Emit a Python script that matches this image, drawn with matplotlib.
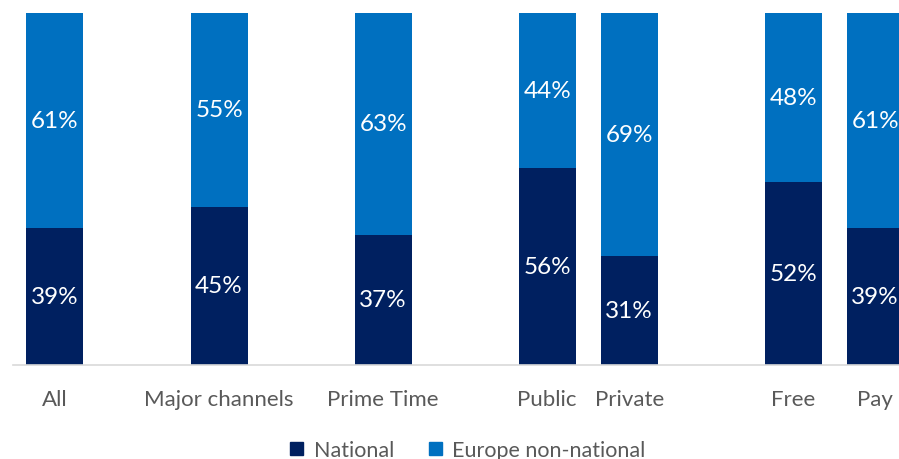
import matplotlib.pyplot as plt
from matplotlib.patches import Patch

categories = ['All', 'Major channels', 'Prime Time', 'Public', 'Private', 'Free', 'Pay']
national = [39, 45, 37, 56, 31, 52, 39]
europe_non_national = [61, 55, 63, 44, 69, 48, 61]

# groups sit apart with an empty slot between them
slots = [0, 2, 4, 6, 7, 9, 10]

NAVY = '#002060'
BLUE = '#0070C0'
GREY = '#595959'

plt.rcParams['font.family'] = ['Lato', 'DejaVu Sans']

fig = plt.figure(figsize=(8.99, 4.60), dpi=100)
ax = fig.add_axes([13 / 899, 94 / 460, 886 / 899, 352 / 460])

nat = [v / 100 for v in national]
eur = [v / 100 for v in europe_non_national]
ax.bar(slots, nat, width=0.695, color=NAVY)
ax.bar(slots, eur, width=0.695, bottom=nat, color=BLUE)

for x, n, e in zip(slots, national, europe_non_national):
    ax.text(x, n / 200, f'{n}%', ha='center', va='center', color='white', fontsize=17.5)
    ax.text(x, n / 100 + e / 200, f'{e}%', ha='center', va='center', color='white', fontsize=17.5)

ax.set_xlim(-0.512, 10.29)
ax.set_ylim(0, 1)
ax.set_yticks([])
ax.set_xticks(slots)
ax.set_xticklabels(categories, fontsize=16, color=GREY)
ax.tick_params(axis='x', length=0, pad=17)
for side in ['top', 'right', 'left']:
    ax.spines[side].set_visible(False)
ax.spines['bottom'].set_color('#d9d9d9')
ax.spines['bottom'].set_linewidth(1.2)

handles = [Patch(color=NAVY, label='National'), Patch(color=BLUE, label='Europe non-national')]
fig.legend(handles=handles, loc='center', bbox_to_anchor=(468 / 899, 9 / 460), ncol=2,
           frameon=False, fontsize=15.5, labelcolor=GREY, handlelength=0.6, handleheight=0.6,
           handletextpad=0.5, columnspacing=1.6)

fig.savefig('out.png', dpi=100)
